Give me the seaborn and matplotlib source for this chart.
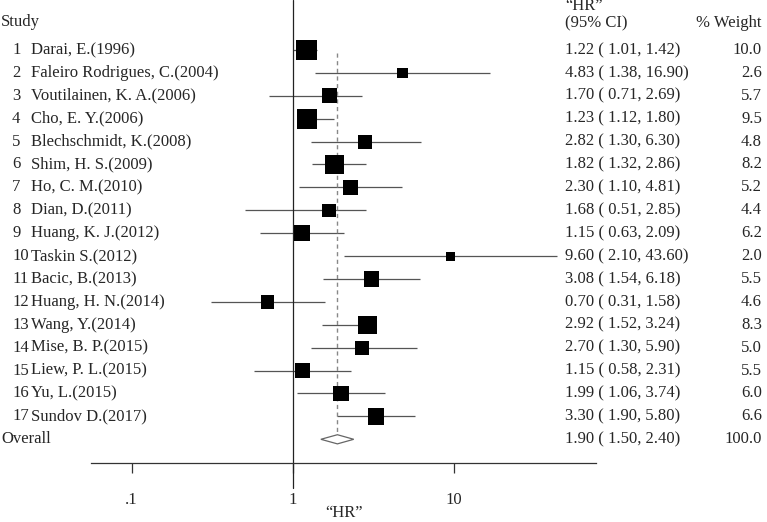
import matplotlib
matplotlib.use("Agg")
import matplotlib.pyplot as plt
import matplotlib.transforms as mtransforms
import seaborn as sns
import pandas as pd

# study rows, top to bottom
studies = ["Darai, E.(1996)", "Faleiro Rodrigues, C.(2004)", "Voutilainen, K. A.(2006)",
           "Cho, E. Y.(2006)", "Blechschmidt, K.(2008)", "Shim, H. S.(2009)",
           "Ho, C. M.(2010)", "Dian, D.(2011)", "Huang, K. J.(2012)", "Taskin S.(2012)",
           "Bacic, B.(2013)", "Huang, H. N.(2014)", "Wang, Y.(2014)", "Mise, B. P.(2015)",
           "Liew, P. L.(2015)", "Yu, L.(2015)", "Sundov D.(2017)"]
hr = [1.22, 4.83, 1.70, 1.23, 2.82, 1.82, 2.30, 1.68, 1.15, 9.60, 3.08, 0.70, 2.92, 2.70, 1.15, 1.99, 3.30]
ci_low = [1.01, 1.38, 0.71, 1.12, 1.30, 1.32, 1.10, 0.51, 0.63, 2.10, 1.54, 0.31, 1.52, 1.30, 0.58, 1.06, 1.90]
ci_high = [1.42, 16.90, 2.69, 1.80, 6.30, 2.86, 4.81, 2.85, 2.09, 43.60, 6.18, 1.58, 3.24, 5.90, 2.31, 3.74, 5.80]
weight = [10.0, 2.6, 5.7, 9.5, 4.8, 8.2, 5.2, 4.4, 6.2, 2.0, 5.5, 4.6, 8.3, 5.0, 5.5, 6.0, 6.6]

overall_hr = 1.90
overall_low = 1.50
overall_high = 2.40
overall_weight = 100.0

tick_values = [0.1, 1, 10]
tick_labels = [".1", "1", "10"]

df = pd.DataFrame({"study": studies, "hr": hr, "lo": ci_low, "hi": ci_high, "w": weight})
df["row"] = range(1, len(df) + 1)
overall_row = len(df) + 1

sns.set_theme(style="white")
plt.rcParams["font.family"] = ["Liberation Serif", "DejaVu Serif"]
plt.rcParams["font.size"] = 12

W, H = 767, 522
fig = plt.figure(figsize=(W / 100, H / 100), dpi=100)
ax = fig.add_axes([91 / W, (H - 463) / H, (596 - 91) / W, 463 / H])
ax.set_xscale("log")
ax.set_xlim(0.05603, 76.7)
ax.set_ylim(19.035, -1.183)

# confidence intervals
ax.hlines(df["row"], df["lo"], df["hi"], color="#555555", lw=0.9, zorder=1)

# weighted squares (area proportional to % weight)
sns.scatterplot(data=df, x="hr", y="row", size="w", sizes=(0, 214), size_norm=(0, 10),
                marker="s", color="black", linewidth=0, legend=False, ax=ax, zorder=3)

# null line and overall line
ax.axvline(1, ymin=-25 / 463, ymax=1, color="#222222", lw=0.9, clip_on=False, zorder=2)
ax.plot([overall_hr, overall_hr], [1.15, overall_row - 0.2], color="#888888", lw=1,
        ls=(0, (3, 2.5)), zorder=2)

# overall diamond
h = 0.2
ax.fill([overall_low, overall_hr, overall_high, overall_hr],
        [overall_row, overall_row - h, overall_row, overall_row + h],
        facecolor="white", edgecolor="#666666", lw=0.9, zorder=4)

# axis styling
for side in ["top", "left", "right"]:
    ax.spines[side].set_visible(False)
ax.spines["bottom"].set_color("#333333")
ax.spines["bottom"].set_linewidth(0.9)
ax.set_xticks(tick_values, labels=tick_labels)
ax.minorticks_off()
ax.set_yticks([])
ax.tick_params(axis="x", direction="out", length=7.2, width=0.9, color="#333333",
               pad=14, labelsize=12, bottom=True)
ax.set_xlabel("\u201cHR\u201d", fontsize=12, labelpad=-2.5)
ax.set_ylabel("")
ax.grid(False)

# text columns
tr = mtransforms.blended_transform_factory(fig.transFigure, ax.transData)
px = lambda v: v / W
kw = dict(transform=tr, fontsize=12, va="center", clip_on=False)

ax.text(px(1), -0.22, "Study", ha="left", **kw)
ax.text(px(565), -0.9, "\u201cHR\u201d", ha="left", **kw)
ax.text(px(565), -0.18, "(95% CI)", ha="left", **kw)
ax.text(px(762), -0.18, "% Weight", ha="right", **kw)

for _, r in df.iterrows():
    ax.text(px(12), r["row"], f"{r['row']}", ha="left", **kw)
    ax.text(px(31), r["row"], r["study"], ha="left", **kw)
    ax.text(px(565), r["row"], f"{r['hr']:.2f} ( {r['lo']:.2f}, {r['hi']:.2f})", ha="left", **kw)
    ax.text(px(762), r["row"], f"{r['w']:.1f}", ha="right", **kw)

ax.text(px(1), overall_row, "Overall", ha="left", **kw)
ax.text(px(565), overall_row, f"{overall_hr:.2f} ( {overall_low:.2f}, {overall_high:.2f})", ha="left", **kw)
ax.text(px(762), overall_row, f"{overall_weight:.1f}", ha="right", **kw)

fig.savefig("out.png", dpi=100, facecolor="white")
